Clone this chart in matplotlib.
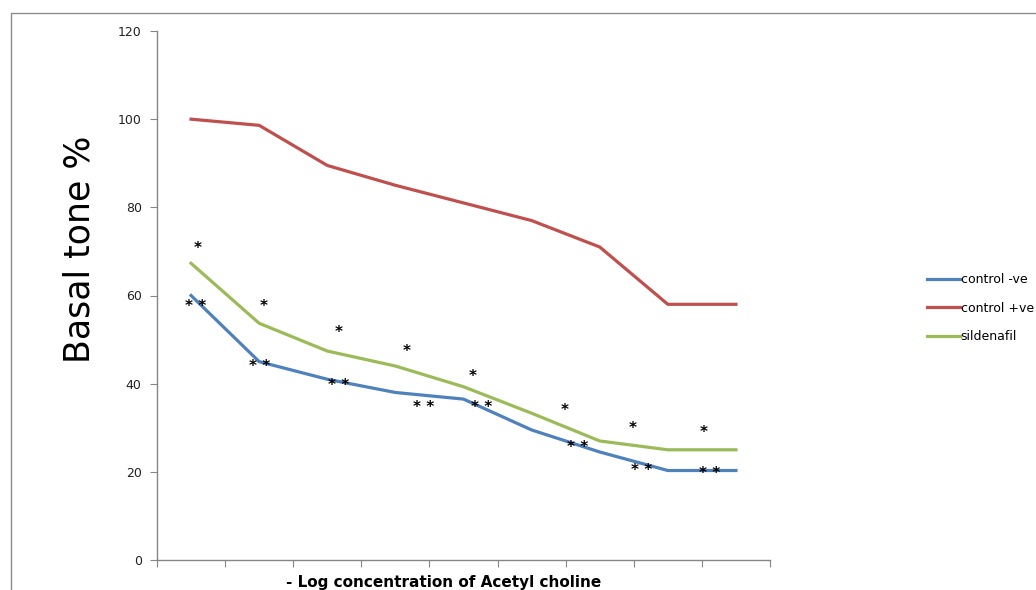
import matplotlib
matplotlib.use('Agg')
import matplotlib.pyplot as plt
import matplotlib.patches as patches

# categories: successive -log[ACh] doses (no tick labels in the original)
doses = list(range(9))

control_neg = [60, 45, 41, 38, 36.5, 29.5, 24.5, 20.3, 20.3]
control_pos = [100, 98.6, 89.5, 85, 81, 77, 71, 58, 58]
sildenafil = [67.3, 53.7, 47.4, 44, 39.3, 33.3, 27, 25, 25]

# significance marks: "*" near sildenafil, "**" near control -ve
star_x = [0.10, 1.06, 2.16, 3.17, 4.14, 5.49, 6.49, 7.52]
star_y = [70.7, 57.4, 51.7, 47.2, 41.7, 34.0, 29.9, 29.0]
dstar_x = [0.07, 1.00, 2.17, 3.42, 4.27, 5.67, 6.61, 7.61]
dstar_y = [57.6, 43.8, 39.5, 34.7, 34.7, 25.6, 20.4, 19.7]

blue = '#4F81BD'
red = '#C0504D'
green = '#9BBB59'
grey = '#868686'

fig = plt.figure(figsize=(10.36, 5.90), dpi=100)
ax = fig.add_axes([157 / 1036, 30 / 590, 613 / 1036, 529 / 590])

# outer chart frame (top and left visible, rest cropped)
frame = patches.Rectangle((11 / 1036, -0.1), 1.2, (590 - 13) / 590 + 0.1,
                          transform=fig.transFigure, fill=False,
                          edgecolor='#8c8c8c', linewidth=1.0)
fig.patches.append(frame)

ax.plot(doses, control_neg, color=blue, lw=2.3, label='control -ve')
ax.plot(doses, control_pos, color=red, lw=2.3, label='control +ve')
ax.plot(doses, sildenafil, color=green, lw=2.3, label='sildenafil')

for x, y in zip(star_x, star_y):
    ax.text(x, y, '*', ha='center', va='center', fontsize=11,
            fontweight='bold', color='black')
for x, y in zip(dstar_x, dstar_y):
    ax.text(x, y, '* *', ha='center', va='center', fontsize=11,
            fontweight='bold', color='black')

ax.set_xlim(-0.5, 8.5)
ax.set_ylim(0, 120)
ax.set_yticks(range(0, 121, 20))
ax.set_xticks([i - 0.5 for i in range(10)])
ax.set_xticklabels([])
ax.tick_params(axis='both', direction='out', length=5, color=grey,
               labelsize=9, labelcolor='#222222')
ax.tick_params(axis='y', pad=6)
for side in ['top', 'right']:
    ax.spines[side].set_visible(False)
for side in ['left', 'bottom']:
    ax.spines[side].set_color(grey)
    ax.spines[side].set_linewidth(1.0)

fig.text(79 / 1036, 1 - 249 / 590, 'Basal tone %', rotation=90,
         ha='center', va='center', fontsize=25, color='black')
fig.text(444 / 1036, 1 - 582 / 590, '- Log concentration of Acetyl choline',
         ha='center', va='center', fontsize=11, fontweight='bold')

leg = fig.legend(loc='upper left', bbox_to_anchor=(922 / 1036, 1 - 268 / 590),
                 frameon=False, fontsize=9, handlelength=2.6,
                 handletextpad=0.1, labelspacing=1.25, borderaxespad=0)

plt.savefig('out.png', dpi=100, facecolor='white')
plt.close()
